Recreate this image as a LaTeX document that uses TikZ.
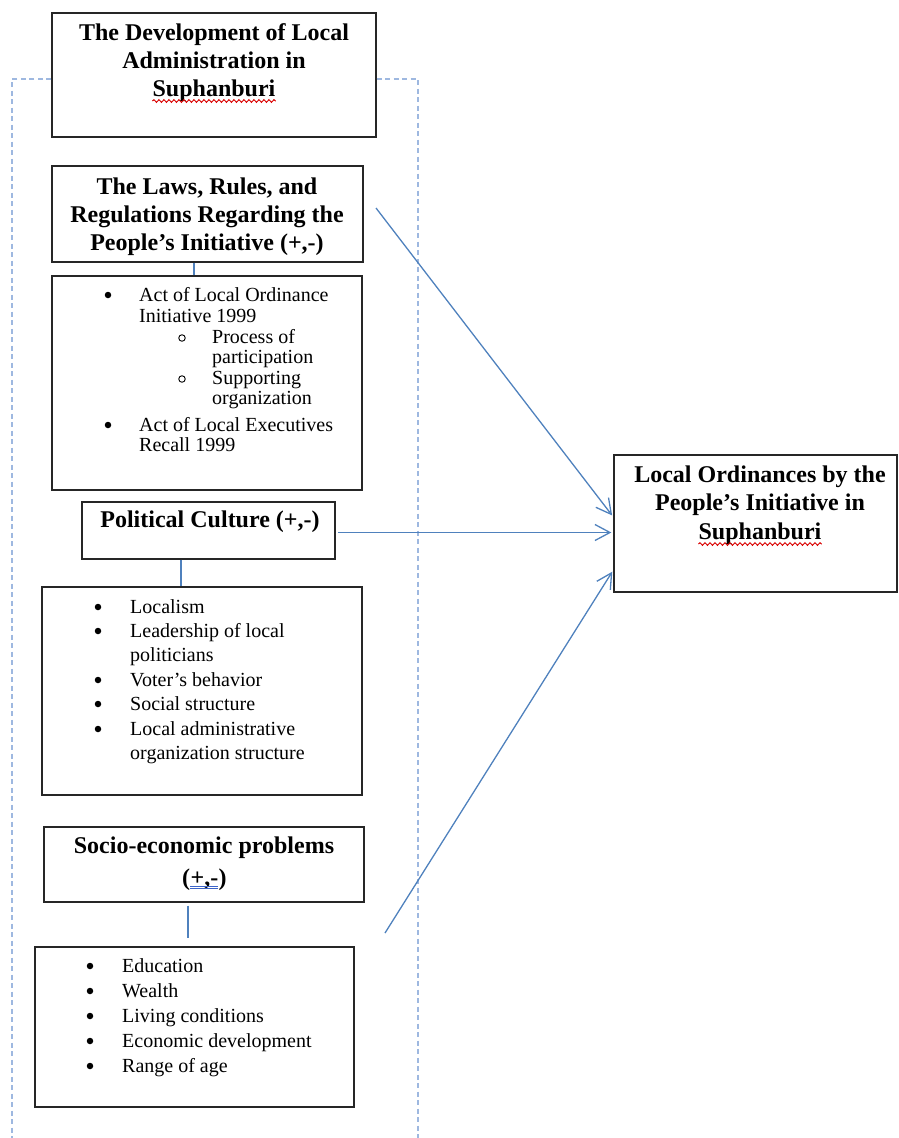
\documentclass[tikz,border=0pt]{standalone}
\usepackage{fontspec}
\setmainfont{Liberation Serif}
\usetikzlibrary{arrows.meta,decorations.pathmorphing}
\definecolor{linkblue}{RGB}{79,129,189}
\definecolor{dashblue}{RGB}{158,184,224}
\definecolor{gramblue}{RGB}{60,100,200}
\begin{document}
\begin{tikzpicture}[x=1pt,y=-1pt,
  box/.style={draw=black!85,line width=1.3pt,rectangle,inner sep=0pt,fill=none},
  bt/.style={font=\fontsize{24}{28}\bfseries\selectfont,inner sep=0pt,anchor=base},
  lt/.style={font=\fontsize{20}{24}\selectfont,inner sep=0pt,anchor=base west},
  bul/.style={circle,fill=black,inner sep=0pt,minimum size=6.5pt},
  subbul/.style={circle,draw=black,line width=0.9pt,inner sep=0pt,minimum width=6.5pt,minimum height=6pt},
  conn/.style={draw=linkblue,line width=1.3pt},
  arr/.style={draw=linkblue,line width=1.3pt,-{Straight Barb[length=15pt,width=16pt,line width=1.3pt]}},
  dashline/.style={draw=dashblue,line width=1.5pt,dash pattern=on 5pt off 3.5pt},
  squig/.style={draw=red!85!black,line width=1pt,decorate,decoration={snake,amplitude=1.3pt,segment length=5pt}},
  gram/.style={draw=gramblue,line width=0.8pt}
]
\useasboundingbox (0,0) rectangle (898,1138);

% ---------- boxes ----------
\node[box,minimum width=324pt,minimum height=124pt] (dev) at (214,75) {};
\node[box,minimum width=311pt,minimum height=96pt] (laws) at (207.5,214) {};
\node[box,minimum width=310pt,minimum height=214pt] (list1) at (207,383) {};
\node[box,minimum width=253pt,minimum height=57pt] (pol) at (208.5,530.5) {};
\node[box,minimum width=320pt,minimum height=208pt] (list2) at (202,691) {};
\node[box,minimum width=320pt,minimum height=75pt] (soc) at (204,864.5) {};
\node[box,minimum width=319pt,minimum height=160pt] (list3) at (194.5,1027) {};
\node[box,minimum width=283pt,minimum height=137pt] (res) at (755.5,523.5) {};

% ---------- dashed frame ----------
\draw[dashline] ([yshift=-4pt]dev.west) -- (12,79) -- (12,1138);
\draw[dashline] ([yshift=-4pt]dev.east) -- (418,79) -- (418,1138);

% ---------- titles ----------
\node[bt] (dev1) at (214,40) {The Development of Local};
\node[bt] (dev2) at (214,68) {Administration in};
\node[bt] (dev3) at (214,96) {Suphanburi};
\draw[squig] ([yshift=-5pt]dev3.base west) -- ([yshift=-5pt]dev3.base east);

\node[bt] (law1) at (207,194) {The Laws, Rules, and};
\node[bt] (law2) at (207,222) {Regulations Regarding the};
\node[bt] (law3) at (207,250) {People’s Initiative (+,-)};

\node[bt] (pol1) at (210,527) {Political Culture (+,-)};

\node[bt] (soc1) at (204,853) {Socio-economic problems};
\node[bt,anchor=base west] (soc2a) at (182,885) {(};
\node[bt,anchor=base west] (soc2b) at (soc2a.base east) {+,-};
\node[bt,anchor=base west] (soc2c) at (soc2b.base east) {)};
\draw[gram] ([yshift=-1.5pt]soc2b.base west) -- ([yshift=-1.5pt]soc2b.base east);
\draw[gram] ([yshift=-3.8pt]soc2b.base west) -- ([yshift=-3.8pt]soc2b.base east);

\node[bt] (res1) at (760,482) {Local Ordinances by the};
\node[bt] (res2) at (760,510) {People’s Initiative in};
\node[bt] (res3) at (760,539) {Suphanburi};
\draw[squig] ([yshift=-5pt]res3.base west) -- ([yshift=-5pt]res3.base east);

% ---------- list 1 ----------
\node[bul] (l1b1) at (108,295) {};
\node[lt] (l1t1) at (139,301) {Act of Local Ordinance};
\node[lt] (l1t2) at (139,322) {Initiative 1999};
\node[subbul] (l1s1) at (182,338) {};
\node[lt] (l1t3) at (212,343) {Process of};
\node[lt] (l1t4) at (212,363) {participation};
\node[subbul] (l1s2) at (182,379) {};
\node[lt] (l1t5) at (212,384) {Supporting};
\node[lt] (l1t6) at (212,404) {organization};
\node[bul] (l1b2) at (108,425) {};
\node[lt] (l1t7) at (139,431) {Act of Local Executives};
\node[lt] (l1t8) at (139,451) {Recall 1999};

% ---------- list 2 ----------
\node[bul] (l2b1) at (98,607) {};
\node[lt] (l2t1) at (130,613) {Localism};
\node[bul] (l2b2) at (98,631) {};
\node[lt] (l2t2) at (130,637) {Leadership of local};
\node[lt] (l2t3) at (130,661) {politicians};
\node[bul] (l2b3) at (98,680) {};
\node[lt] (l2t4) at (130,686) {Voter’s behavior};
\node[bul] (l2b4) at (98,704) {};
\node[lt] (l2t5) at (130,710) {Social structure};
\node[bul] (l2b5) at (98,729) {};
\node[lt] (l2t6) at (130,735) {Local administrative};
\node[lt] (l2t7) at (130,759) {organization structure};

% ---------- list 3 ----------
\node[bul] (l3b1) at (90,966) {};
\node[lt] (l3t1) at (122,972) {Education};
\node[bul] (l3b2) at (90,991) {};
\node[lt] (l3t2) at (122,997) {Wealth};
\node[bul] (l3b3) at (90,1016) {};
\node[lt] (l3t3) at (122,1022) {Living conditions};
\node[bul] (l3b4) at (90,1041) {};
\node[lt] (l3t4) at (122,1047) {Economic development};
\node[bul] (l3b5) at (90,1066) {};
\node[lt] (l3t5) at (122,1072) {Range of age};

% ---------- vertical connectors ----------
\draw[conn] ([xshift=-13.5pt]laws.south) -- ([xshift=-13.5pt]laws.south |- list1.north);
\draw[conn] ([xshift=-27.5pt]pol.south) -- ([xshift=-27.5pt]pol.south |- list2.north);
\draw[conn,shorten <=3pt,shorten >=8pt] ([xshift=-16pt]soc.south) -- ([xshift=-16pt]soc.south |- list3.north);

% ---------- arrows ----------
\coordinate (a1s) at (376,208);
\coordinate (a2s) at (338,532.5);
\coordinate (a3s) at (385,933);
\draw[arr,shorten >=2pt] (a1s) -- ([yshift=6.5pt]res.west);
\draw[arr,shorten >=2pt] (a2s) -- ([yshift=-9pt]res.west);
\draw[arr,shorten >=2pt] (a3s) -- ([yshift=-46.5pt]res.west);
\end{tikzpicture}
\end{document}
